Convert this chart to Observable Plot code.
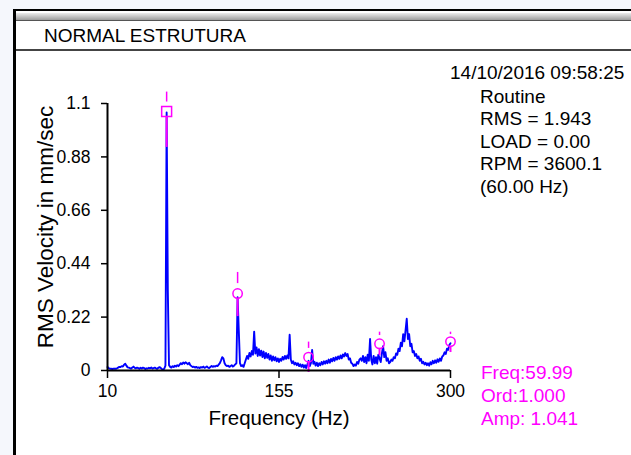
<!DOCTYPE html>
<html><head><meta charset="utf-8">
<script src="https://cdn.jsdelivr.net/npm/d3@7"></script>
<script src="https://cdn.jsdelivr.net/npm/@observablehq/plot@0.6"></script>
<style>
html,body{margin:0;padding:0;width:631px;height:455px;overflow:hidden;background:#f5f7fc;font-family:"Liberation Sans",Arial,sans-serif;}
#win{position:absolute;left:13px;top:9px;width:640px;height:460px;background:#fff;border-left:3px solid #000;border-top:2px solid #000;}
#bar{position:absolute;left:16px;top:13px;width:620px;height:7px;background:linear-gradient(#ececec,#9c9c9c);border-bottom:1px solid #555;}
#sep{position:absolute;left:16px;top:49px;width:620px;height:2px;background:#444;}
.t{position:absolute;white-space:nowrap;font-size:19px;line-height:19px;color:#000;}
#chart{position:absolute;left:0;top:0;}
</style></head>
<body>
<div id="win"></div><div id="bar"></div><div id="sep"></div>
<div id="chart"></div>
<script>
// ---- data ----
const title = "NORMAL ESTRUTURA";
const timestamp = "14/10/2016 09:58:25";
const infoLines = ["Routine", "RMS = 1.943", "LOAD = 0.00", "RPM = 3600.1", "(60.00 Hz)"];
const cursorLines = ["Freq:59.99", "Ord:1.000", "Amp: 1.041"];
const xLabel = "Frequency (Hz)";
const yLabel = "RMS Velocity in mm/sec";
const xTicks = [10, 155, 300];
const yTicks = [0, 0.22, 0.44, 0.66, 0.88, 1.1];
const yTickLabels = ["0", "0.22", "0.44", "0.66", "0.88", "1.1"];

// spectrum: one amplitude per 1 Hz bin, from 10 Hz to 300 Hz
const spectrumStartHz = 10;
const spectrumStepHz = 1;
const amplitude = [
  0.014,0.010,0.007,0.007,0.006,0.007,0.008,0.007,0.009,0.012, // 10
  0.015,0.014,0.018,0.016,0.024,0.028,0.020,0.013,0.012,0.010, // 20
  0.008,0.012,0.016,0.011,0.009,0.012,0.010,0.007,0.011,0.008, // 30
  0.012,0.010,0.006,0.009,0.008,0.011,0.009,0.012,0.008,0.010, // 40
  0.012,0.009,0.007,0.011,0.014,0.010,0.006,0.003,0.008,0.020, // 50
  1.063,0.330,0.022,0.015,0.012,0.018,0.014,0.020,0.016,0.022, // 60
  0.018,0.024,0.030,0.026,0.033,0.028,0.034,0.030,0.026,0.032, // 70
  0.022,0.018,0.014,0.016,0.012,0.015,0.011,0.013,0.010,0.014, // 80
  0.012,0.016,0.011,0.013,0.017,0.012,0.010,0.014,0.019,0.015, // 90
  0.018,0.016,0.020,0.018,0.024,0.030,0.042,0.055,0.050,0.030, // 100
  0.022,0.018,0.020,0.015,0.018,0.022,0.016,0.020,0.025,0.030, // 110
  0.302,0.165,0.030,0.018,0.022,0.015,0.030,0.045,0.060,0.048, // 120
  0.072,0.058,0.080,0.065,0.160,0.070,0.095,0.060,0.088,0.062, // 130
  0.082,0.055,0.078,0.050,0.072,0.052,0.068,0.045,0.062,0.040, // 140
  0.058,0.042,0.055,0.038,0.050,0.035,0.048,0.040,0.056,0.045, // 150
  0.060,0.048,0.062,0.050,0.147,0.045,0.030,0.038,0.025,0.032, // 160
  0.022,0.030,0.018,0.026,0.015,0.024,0.012,0.022,0.010,0.025, // 170
  0.040,0.018,0.030,0.085,0.028,0.036,0.020,0.032,0.018,0.030, // 180
  0.022,0.035,0.025,0.038,0.028,0.040,0.030,0.045,0.032,0.048, // 190
  0.038,0.052,0.040,0.055,0.045,0.058,0.048,0.062,0.050,0.066, // 200
  0.058,0.072,0.060,0.068,0.045,0.050,0.032,0.028,0.018,0.025, // 210
  0.020,0.035,0.028,0.045,0.050,0.040,0.060,0.035,0.055,0.030, // 220
  0.065,0.040,0.130,0.045,0.025,0.060,0.030,0.055,0.028,0.065, // 230
  0.050,0.035,0.070,0.100,0.055,0.075,0.040,0.050,0.030,0.035, // 240
  0.045,0.040,0.055,0.050,0.070,0.065,0.090,0.080,0.115,0.100, // 250
  0.150,0.120,0.165,0.213,0.130,0.150,0.100,0.110,0.075,0.080, // 260
  0.060,0.068,0.050,0.058,0.040,0.048,0.030,0.036,0.025,0.032, // 270
  0.022,0.030,0.020,0.034,0.026,0.040,0.030,0.042,0.032,0.046, // 280
  0.036,0.050,0.040,0.058,0.062,0.075,0.068,0.090,0.085,0.105, // 290
  0.112                                                        // 300
];

// harmonic cursor markers (1x .. 5x of running speed)
const markerFreq = [60, 120, 180, 240, 300];
const markerAmp = [1.067, 0.317, 0.055, 0.110, 0.119];
const markerTickTop = [1.147, 0.404, 0.117, 0.158, 0.158];
const markerTickBottom = [1.106, 0.358, 0.091, 0.144, 0.148];
const markerStemTop = [1.047, 0.297, 0.034, 0.091, 0.099];
const markerStemBottom = [0.919, 0.222, -0.008, 0.062, 0.074];

// ---- build ----
const spectrum = amplitude.map((a, i) => ({f: spectrumStartHz + i * spectrumStepHz, a}));
const markers = markerFreq.map((f, i) => ({
  f, a: markerAmp[i], t1: markerTickTop[i], t2: markerTickBottom[i],
  s1: markerStemTop[i], s2: markerStemBottom[i], first: i === 0
}));
const pink = "#ff00ff";

const chart = Plot.plot({
  width: 631, height: 455,
  marginLeft: 107, marginRight: 181, marginTop: 103, marginBottom: 85,
  style: {background: "transparent", fontFamily: "'Liberation Sans', Arial, sans-serif", color: "#000"},
  x: {domain: [10, 300]},
  y: {domain: [0, 1.1]},
  marks: [
    Plot.axisY({ticks: yTicks, tickFormat: (d, i) => yTickLabels[i], tickSize: 6, tickPadding: 11,
      strokeWidth: 1.5, fontSize: 17.5, label: null}),
    Plot.axisX({ticks: xTicks, tickFormat: d => String(d), tickSize: 8, tickPadding: 6,
      strokeWidth: 1.5, fontSize: 17.5, label: null}),
    Plot.text([yLabel], {text: d => d, frameAnchor: "left", rotate: -90, dx: -62, dy: -10,
      fontSize: 22.5, textAnchor: "middle", lineAnchor: "middle"}),
    Plot.text([xLabel], {text: d => d, frameAnchor: "bottom", dy: 48,
      fontSize: 20.5, textAnchor: "middle", lineAnchor: "middle"}),
    Plot.line(spectrum, {x: "f", y: "a", stroke: "#0000ff", strokeWidth: 1.9}),
    Plot.ruleX(markers, {x: "f", y1: "s2", y2: "s1", stroke: pink, strokeWidth: 2}),
    Plot.ruleX(markers, {x: "f", y1: "t2", y2: "t1", stroke: pink, strokeWidth: 1.5}),
    Plot.dot(markers.filter(d => d.first), {x: "f", y: "a", symbol: "square", r: 5.6, stroke: pink, strokeWidth: 1.5, fill: "none"}),
    Plot.dot(markers.filter(d => !d.first), {x: "f", y: "a", symbol: "circle", r: 4.7, stroke: pink, strokeWidth: 1.5, fill: "none"}),
    Plot.ruleY([0], {stroke: "#000", strokeWidth: 2}),
    Plot.ruleX([10], {stroke: "#000", strokeWidth: 2})
  ]
});
document.getElementById("chart").appendChild(chart);

function addText(txt, left, top, color) {
  const d = document.createElement("div");
  d.className = "t";
  d.textContent = txt;
  d.style.left = left + "px";
  d.style.top = top + "px";
  if (color) d.style.color = color;
  document.body.appendChild(d);
}
addText(title, 44, 26);
addText(timestamp, 450, 63);
infoLines.forEach((s, i) => addText(s, 480, 87 + i * 22.4));
cursorLines.forEach((s, i) => addText(s, 481, 363 + i * 22.8, pink));
</script>
</body></html>
